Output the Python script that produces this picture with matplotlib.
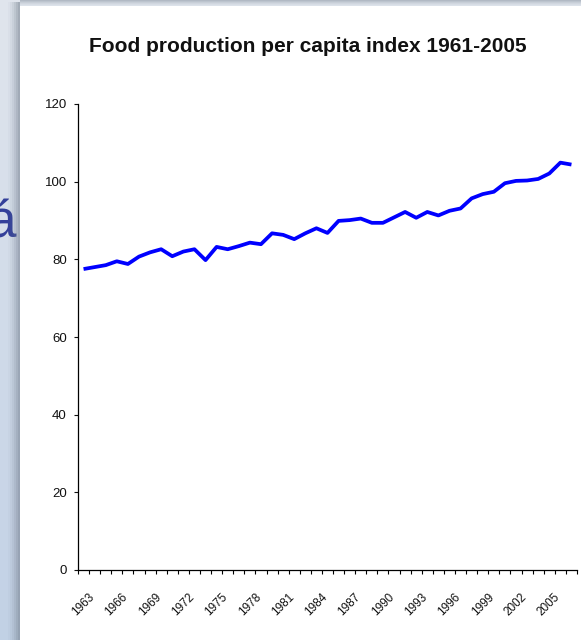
import numpy as np
import matplotlib.pyplot as plt
import matplotlib.transforms as mtransforms
from matplotlib.patches import Rectangle
from matplotlib.ticker import FixedLocator, NullFormatter

plt.rcParams['font.family'] = ['Liberation Sans', 'DejaVu Sans']

# Data
years = list(range(1961, 2006))
index = [77.5, 78.0, 78.5, 79.5, 78.8, 80.7, 81.8, 82.6, 80.8, 82.0,
         82.6, 79.8, 83.2, 82.6, 83.4, 84.3, 83.9, 86.7, 86.3, 85.2,
         86.7, 88.0, 86.8, 89.9, 90.1, 90.5, 89.4, 89.4, 90.8, 92.2,
         90.7, 92.2, 91.3, 92.5, 93.1, 95.7, 96.8, 97.4, 99.6, 100.2,
         100.3, 100.7, 102.1, 104.9, 104.4]
label_years = list(range(1963, 2006, 3))
y_ticks = [0, 20, 40, 60, 80, 100, 120]
title = "Food production per capita index 1961-2005"

W, H = 581, 640
fig = plt.figure(figsize=(W / 100, H / 100), dpi=100)
fig.patch.set_facecolor('#dde3ea')

# slide background strip: soft vertical gradient, light grey to pale blue
bg = fig.add_axes([0, 0, 1, 1], zorder=0)
top = np.array([0.88, 0.90, 0.93])
bottom = np.array([0.76, 0.82, 0.90])
t = np.linspace(0, 1, 64)[:, None]
grad = (top * (1 - t) + bottom * t)[:, None, :]
bg.imshow(grad, aspect='auto', extent=[0, 1, 0, 1], origin='upper')
bg.set_xlim(0, 1)
bg.set_ylim(0, 1)
bg.axis('off')

fig.text(16 / W, (H - 237) / H, 'á', fontsize=37, color='#33409a',
         ha='right', va='baseline', zorder=1)
for k, a in enumerate([0.08, 0.12, 0.18, 0.25, 0.32, 0.4]):
    fig.patches.append(Rectangle(((8 + 2 * k) / W, 0), (20 - 8 - 2 * k) / W, 1 - 2 / H,
                                 transform=fig.transFigure, facecolor='#6f7a8a',
                                 edgecolor='none', alpha=a * 0.5, zorder=2))
    fig.patches.append(Rectangle((20 / W, 1 - (6 - k) / H), 1, (6 - k) / H,
                                 transform=fig.transFigure, facecolor='#6f7a8a',
                                 edgecolor='none', alpha=a * 0.35, zorder=2))
fig.patches.append(Rectangle((20 / W, 0), 1, 1 - 6 / H, transform=fig.transFigure,
                             facecolor='white', edgecolor='none', zorder=3))

ax = fig.add_axes([78 / W, 70 / H, 499 / W, 466 / H])
ax.set_zorder(5)
ax.patch.set_alpha(0)

ax.plot(years, index, color='#0000ff', lw=2.7, solid_joinstyle='round',
        solid_capstyle='butt')

ax.set_xlim(1960.5, 2005.5)
ax.set_ylim(0, 120)

ax.set_yticks(y_ticks)
ax.tick_params(axis='y', direction='out', length=3, width=0.8, pad=5,
               labelsize=9.5, colors='#111111')

ax.set_xticks(label_years)
ax.set_xticklabels([str(y) for y in label_years], rotation=45, ha='right',
                   va='center', rotation_mode='anchor', fontsize=8.5, color='#111111')
ax.xaxis.set_minor_locator(FixedLocator([y - 0.5 for y in range(1961, 2007)]))
ax.xaxis.set_minor_formatter(NullFormatter())
ax.tick_params(axis='x', which='major', length=0, pad=18.5)
ax.tick_params(axis='x', which='minor', direction='out', length=3, width=0.8)

shift = mtransforms.ScaledTranslation(-0.13, 0, fig.dpi_scale_trans)
for lab in ax.get_xticklabels():
    lab.set_transform(lab.get_transform() + shift)

for side in ['top', 'right']:
    ax.spines[side].set_visible(False)
for side in ['left', 'bottom']:
    ax.spines[side].set_linewidth(0.9)

fig.text(307.5 / W, (H - 46) / H, title, ha='center', va='center',
         fontsize=15, fontweight='bold', color='#111111', zorder=6)

fig.savefig('out.png', dpi=100)
